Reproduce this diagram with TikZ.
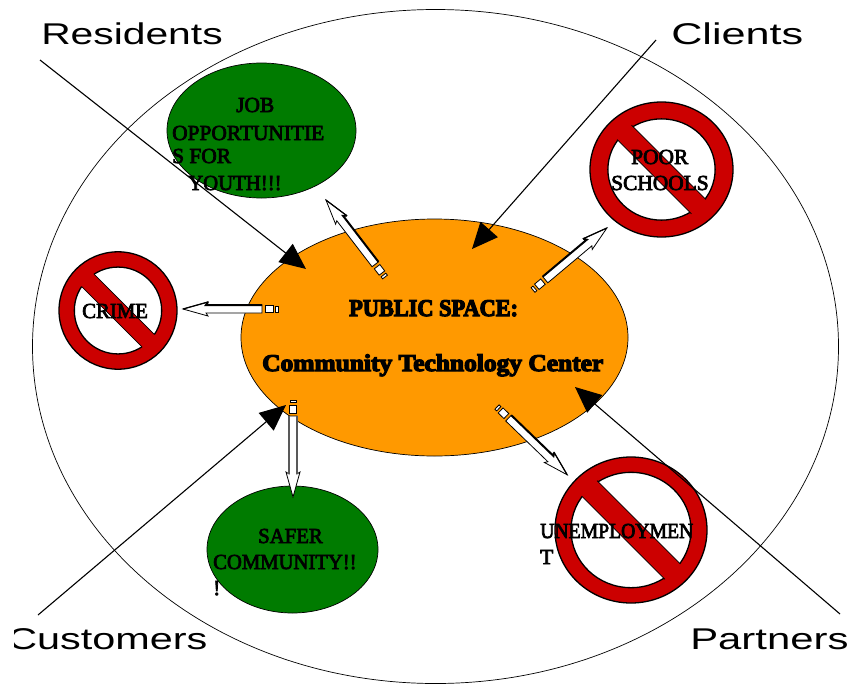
\documentclass[tikz,border=0pt]{standalone}
\usepackage{fontspec}
\setmainfont{Liberation Serif}
\newfontfamily\lblfont{Liberation Sans}
\newfontfamily\heavyfont{Liberation Serif Bold}[FakeBold=5]
\newfontfamily\medfont{Liberation Serif}[FakeBold=3.5]
\usetikzlibrary{shapes.geometric,arrows.meta}
\definecolor{signred}{HTML}{CC0000}
\definecolor{blobgreen}{HTML}{007B00}
\definecolor{hubor}{HTML}{FF9900}
\tikzset{
  blob/.style={ellipse,draw=black,line width=0.7pt,inner sep=0pt,outer sep=0pt},
  lbl/.style={font=\lblfont\fontsize{30}{30}\selectfont,anchor=base west,inner sep=0pt},
  txt/.style={font=\medfont\fontsize{21.4}{25}\selectfont,inner sep=0pt,anchor=base west},
  hub/.style={font=\heavyfont\fontsize{24}{26}\selectfont,inner sep=0pt,anchor=base west},
  feed/.style={line width=1.1pt,-{Triangle[length=26pt,width=23pt]}},
}
% tail x,y ; angle ; length ; thick side (+1 left of direction, -1 right, 0 both sides grey)
\newcommand\blockarrow[4]{%
  \begin{scope}[shift={(#1)},rotate=#2,y=1pt]
    \draw[line width=.8pt,fill=white] (#3-23,4)--(#3-25,7)--(#3,0)--(#3-25,-7)--(#3-23,-4)--(16,-4)--(16,4)--cycle;
    \ifnum#4=0
      \draw[line width=1.6pt,black!65] (16,4)--(#3-23,4) (16,-4)--(#3-23,-4);
    \else
      \draw[line width=2pt] (16,#4*4)--(#3-23,#4*4)--(#3-25,#4*7);
      \draw[line width=1.2pt] (#3-25,#4*7)--(#3,0);
    \fi
    \draw[line width=.8pt,fill=white] (5,-3.5) rectangle (13,3.5);
    \draw[line width=.8pt,fill=white] (0,-3) rectangle (2.5,3);
  \end{scope}}
% centre ; rx ; ry ; inner radius fraction
\newcommand\nosign[4]{%
  \begin{scope}[shift={(#1)},x=#2pt,y=#3pt]
    \draw[line width=1.3pt,fill=signred,even odd rule] (0,0) circle (1) (0,0) circle (#4);
    \begin{scope}[rotate=-45]
      \fill[signred] (-#4-.02,-.15) rectangle (#4+.02,.15);
      \draw[line width=.7pt] ({-sqrt(#4*#4-.0225)},.15)--({sqrt(#4*#4-.0225)},.15);
      \draw[line width=.7pt] ({-sqrt(#4*#4-.0225)},-.15)--({sqrt(#4*#4-.0225)},-.15);
    \end{scope}
  \end{scope}}
\begin{document}
\begin{tikzpicture}[x=1pt,y=-1pt]
\useasboundingbox (0,0) rectangle (851,683);
\node[ellipse,draw=black,line width=.7pt,inner sep=0pt,minimum width=806pt,minimum height=674pt] (outer) at (435.5,346.5) {};
\node[blob,fill=blobgreen,minimum width=189pt,minimum height=135pt] (job) at (261.5,130.5) {};
\node[blob,fill=blobgreen,minimum width=171pt,minimum height=127pt] (safer) at (292.5,549.5) {};
\node[blob,fill=hubor,minimum width=387pt,minimum height=237pt] (hub) at (434.5,337.5) {};
% signs
\nosign{661.5,169.5}{71.5}{67.5}{.75}
\nosign{118,310.5}{59}{58.7}{.74}
\nosign{631,530}{76}{73}{.79}
% labels and connectors
\node[lbl,xscale=1.36] (res) at (41,44) {Residents};
\node[lbl,xscale=1.44] (cli) at (671,44) {Clients};
\node[lbl,xscale=1.395] (par) at (690,649) {Partners};
\begin{scope}
\clip (14,600) rectangle (300,683);
\node[lbl,xscale=1.38] (cus) at (7,649) {Customers};
\end{scope}
\coordinate (resS) at (40,60);  \coordinate (resE) at (306,269);
\coordinate (cliS) at (656,40); \coordinate (cliE) at (472,249);
\coordinate (cusS) at (38,615); \coordinate (cusE) at (286,405);
\coordinate (parS) at (840,614);\coordinate (parE) at (575,387);
\draw[feed] (resS)--(resE);
\draw[feed] (cliS)--(cliE);
\draw[feed] (cusS)--(cusE);
\draw[feed] (parS)--(parE);
% block arrows
\blockarrow{385,277}{127.5}{97}{-1}
\blockarrow{533,290}{40}{96.5}{1}
\blockarrow{278,309}{180}{95}{-1}
\blockarrow{293,400}{-90}{97}{0}
\blockarrow{497,407}{-44}{97.6}{1}
% texts
\node[txt] (t1) at (236,112) {JOB};
\node[txt] (t2) at (172,140) {OPPORTUNITIE};
\node[txt] (t3) at (172,163) {S FOR};
\node[txt,xscale=.97] (t4) at (188,190) {YOUTH!!!};
\node[txt] (t5) at (631,164) {POOR};
\node[txt] (t6) at (611,190) {SCHOOLS};
\node[txt,xscale=.97] (t7) at (82,318) {CRIME};
\node[txt,xscale=.92] (t8) at (540,538) {UNEMPLOYMEN};
\node[txt] (t9) at (540,564) {T};
\node[txt,xscale=.97] (t10) at (258,543) {SAFER};
\node[txt,xscale=.965] (t11) at (213,569) {COMMUNITY!!};
\node[txt] (t12) at (213,595) {!};
\node[hub,xscale=.93] (h1) at (349,316) {PUBLIC SPACE:};
\node[hub,xscale=1.06] (h2) at (262,371) {Community Technology Center};
\end{tikzpicture}
\end{document}
